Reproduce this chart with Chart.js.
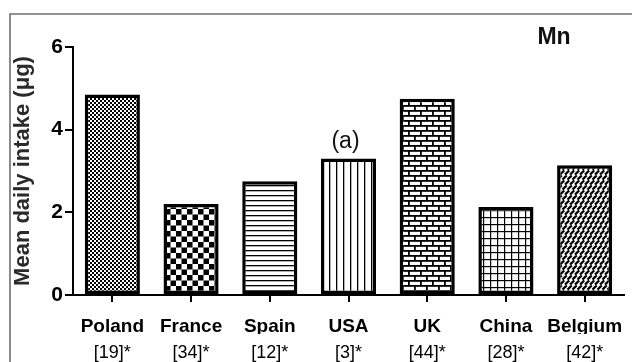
<!DOCTYPE html>
<html>
<head>
<meta charset="utf-8">
<script src="https://cdn.jsdelivr.net/npm/chart.js@4/dist/chart.umd.min.js"></script>
<style>
  html, body { margin: 0; padding: 0; background: #fff; }
  #wrap { width: 632px; height: 362px; }
</style>
</head>
<body>
<div id="wrap"><canvas id="c" width="632" height="362"></canvas></div>
<script>
// Mean daily manganese intake by country, with source references
const countries = ['Poland', 'France', 'Spain', 'USA', 'UK', 'China', 'Belgium'];
const refs = ['[19]*', '[34]*', '[12]*', '[3]*', '[44]*', '[28]*', '[42]*'];
const intake = [4.85, 2.2, 2.75, 3.3, 4.75, 2.13, 3.14];
const notes = ['', '', '', '(a)', '', '', ''];
const yMin = 0, yMax = 6, yStep = 2;
const element = 'Mn';
const yTitle = 'Mean daily intake (\u03bcg)';

const FONT = "'Liberation Sans', Arial, Helvetica, sans-serif";

// ---- fill patterns for each bar ----
function tile(w, h, draw) {
  const c = document.createElement('canvas');
  c.width = w; c.height = h;
  const g = c.getContext('2d');
  g.fillStyle = '#fff';
  g.fillRect(0, 0, w, h);
  g.fillStyle = '#000';
  g.strokeStyle = '#000';
  draw(g, w, h);
  return c.getContext('2d').createPattern(c, 'repeat');
}
const ctx = document.getElementById('c').getContext('2d');
const patterns = [
  // fine checkerboard
  tile(4, 4, g => { g.fillRect(0, 0, 2, 2); g.fillRect(2, 2, 2, 2); }),
  // coarse checkerboard
  tile(11, 11, g => { g.fillRect(0, 0, 5.5, 5.5); g.fillRect(5.5, 5.5, 5.5, 5.5); }),
  // horizontal lines
  tile(4, 5.4, g => { g.fillRect(0, 0, 4, 1.3); }),
  // vertical lines
  tile(7, 4, g => { g.fillRect(0, 0, 1.3, 4); }),
  // brick
  tile(12, 10, g => {
    g.fillRect(0, 0, 12, 1.8); g.fillRect(0, 5, 12, 1.8);
    g.fillRect(0, 0, 1.8, 5); g.fillRect(6, 5, 1.8, 5);
  }),
  // square grid
  tile(7, 7, g => { g.fillRect(0, 0, 7, 1.2); g.fillRect(0, 0, 1.2, 7); }),
  // rows of slanted dashes
  tile(10, 10, g => {
    g.lineWidth = 2.2;
    g.lineCap = 'butt';
    g.beginPath();
    for (let x = -5; x <= 15; x += 5) {
      g.moveTo(x, 4.6); g.lineTo(x + 4.2, 0.4);
      g.moveTo(x + 2.5, 9.6); g.lineTo(x + 6.7, 5.4);
    }
    g.stroke();
  })
];

// ---- plugins ----
const paperPlugin = {
  id: 'paper',
  beforeDraw(chart) {
    const g = chart.ctx;
    g.save();
    g.fillStyle = '#fff';
    g.fillRect(0, 0, chart.width, chart.height);
    g.strokeStyle = '#6f6f6f';
    g.lineWidth = 1.6;
    g.beginPath();
    g.moveTo(10, chart.height);
    g.lineTo(10, 14);
    g.lineTo(chart.width, 14);
    g.stroke();
    g.restore();
  }
};

const annotatePlugin = {
  id: 'annotate',
  afterDatasetsDraw(chart) {
    const g = chart.ctx;
    const meta = chart.getDatasetMeta(0);
    g.save();
    g.fillStyle = '#111';
    g.textAlign = 'center';
    g.textBaseline = 'middle';
    g.font = "23px " + FONT;
    notes.forEach((n, i) => {
      if (!n) return;
      const bar = meta.data[i];
      g.fillText(n, bar.x - 3, bar.y - 17);
    });
    const a = chart.chartArea;
    g.font = "bold 23px " + FONT;
    g.fillStyle = '#111';
    g.fillText(element, a.right - 70, a.top - 9);
    g.restore();
  }
};

// keep the plot box fixed regardless of how far edge labels reach
function noEdgePadding(s) { s.paddingLeft = 0; s.paddingRight = 0; }

new Chart(ctx, {
  type: 'bar',
  data: {
    labels: countries,
    datasets: [{
      data: intake,
      backgroundColor: patterns,
      borderColor: '#000',
      borderWidth: 3.5,
      borderSkipped: false,
      barPercentage: 0.7,
      categoryPercentage: 1
    }]
  },
  options: {
    responsive: false,
    animation: false,
    devicePixelRatio: 1,
    layout: { padding: { top: 47, right: 8, left: 0, bottom: 0 } },
    plugins: {
      legend: { display: false },
      tooltip: { enabled: false }
    },
    scales: {
      x: {
        position: 'bottom',
        offset: true,
        grid: {
          display: true, drawOnChartArea: false, drawTicks: true,
          offset: false, tickLength: 7, color: '#000', lineWidth: 2
        },
        border: { display: true, color: '#000', width: 2 },
        ticks: {
          color: '#000', padding: 13, maxRotation: 0, autoSkip: false,
          font: { family: FONT, size: 19, weight: 'bold' }
        },
        afterFit(s) { s.height = 39; noEdgePadding(s); }
      },
      x2: {
        type: 'category',
        position: 'bottom',
        labels: refs,
        offset: true,
        grid: { display: false },
        border: { display: false },
        ticks: {
          color: '#000', padding: 0, maxRotation: 0, autoSkip: false,
          font: { family: FONT, size: 18 }
        },
        afterFit(s) { s.height = 28; noEdgePadding(s); }
      },
      y: {
        min: yMin,
        max: yMax,
        grid: {
          display: true, drawOnChartArea: false, drawTicks: true,
          tickLength: 8, color: '#000', lineWidth: 2
        },
        border: { display: true, color: '#000', width: 2 },
        ticks: {
          stepSize: yStep, color: '#000', padding: 2,
          font: { family: FONT, size: 21, weight: 'bold' }
        },
        title: {
          display: true, text: yTitle, color: '#2a2a2a',
          font: { family: FONT, size: 22, weight: 'bold' },
          padding: { top: 10, bottom: 0 }
        },
        afterFit(s) { s.width = 73; s.paddingTop = 0; s.paddingBottom = 0; }
      }
    }
  },
  plugins: [paperPlugin, annotatePlugin]
});
</script>
</body>
</html>
